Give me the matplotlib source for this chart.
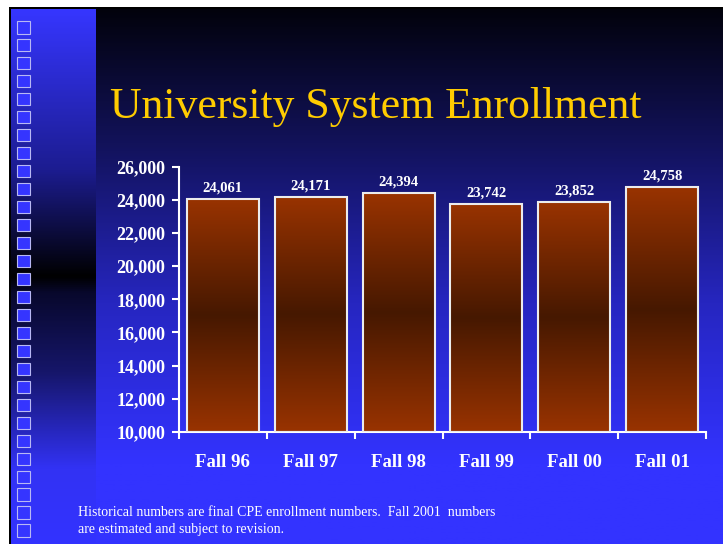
import numpy as np
import matplotlib.pyplot as plt
from matplotlib.colors import LinearSegmentedColormap

# данные
semesters = ['Fall 96', 'Fall 97', 'Fall 98', 'Fall 99', 'Fall 00', 'Fall 01']
enrollment = [24061, 24171, 24394, 23742, 23852, 24758]
y_ticks = [10000, 12000, 14000, 16000, 18000, 20000, 22000, 24000, 26000]

title = 'University System Enrollment'
note = ['Historical numbers are final CPE enrollment numbers.  Fall 2001  numbers',
        'are estimated and subject to revision.']

W, H = 723, 544
plt.rcParams['font.family'] = ['Liberation Serif', 'DejaVu Serif']

fig = plt.figure(figsize=(W / 100, H / 100), dpi=100)
fig.patch.set_facecolor('white')

# фон слайда в пиксельных координатах
bg = fig.add_axes([0, 0, 1, 1])
bg.axis('off')

main_cmap = LinearSegmentedColormap.from_list(
    'main', [(0, '#02020c'), (0.25, '#12125a'), (0.55, '#2626c0'), (0.85, '#3333ff'), (1, '#3333ff')])
strip_cmap = LinearSegmentedColormap.from_list(
    'strip', [(0, '#3636ff'), (0.3, '#1c1c90'), (0.5, '#000000'), (0.53, '#08082c'),
              (0.68, '#16166a'), (0.86, '#3232f4'), (1, '#3333ff')])
grad = np.linspace(0, 1, 256).reshape(-1, 1)

bg.add_patch(plt.Rectangle((9, 7), W, H, facecolor='black', edgecolor='none', zorder=0))
bg.imshow(grad, cmap=main_cmap, extent=(96, W, H, 9), aspect='auto', zorder=1)
bg.imshow(grad, cmap=strip_cmap, extent=(11, 96, H, 9), aspect='auto', zorder=1)
bg.set_xlim(0, W)
bg.set_ylim(H, 0)

# квадратики слева
for k in range(29):
    bg.add_patch(plt.Rectangle((17, 21 + k * 17.98), 12.5, 12.5, facecolor='#3535ff',
                               edgecolor='#b8b8f4', linewidth=0.8, zorder=2))

fig.text(110 / W, 1 - 118 / H, title, color='#ffcc00', fontsize=31.5, va='baseline')
fig.text(78 / W, 1 - 516 / H, note[0], color='white', fontsize=10, va='baseline')
fig.text(78 / W, 1 - 533 / H, note[1], color='white', fontsize=10, va='baseline')

# график
ax = fig.add_axes([179 / W, 1 - 432 / H, 527 / W, 265.5 / H])
ax.patch.set_visible(False)
x = np.arange(len(semesters))
bars = ax.bar(x, np.array(enrollment) - 10000, bottom=10000, width=0.82,
              facecolor='none', edgecolor='#ececec', linewidth=1.5, zorder=3)

bar_cmap = LinearSegmentedColormap.from_list(
    'bar', [(0, '#993300'), (0.5, '#461800'), (1, '#993300')])
for b, val in zip(bars, enrollment):
    x0, x1 = b.get_x(), b.get_x() + b.get_width()
    im = ax.imshow(grad, cmap=bar_cmap, extent=(x0, x1, 10000, val), aspect='auto', zorder=2)
    im.set_clip_path(b)
    ax.annotate(f'{val:,}', (b.get_x() + b.get_width() / 2, val), xytext=(0, 3),
                textcoords='offset points', ha='center', va='bottom',
                color='white', fontsize=10.5, fontweight='bold')

ax.set_xlim(-0.5, len(semesters) - 0.5)
ax.set_ylim(10000, 26000)
ax.set_yticks(y_ticks)
ax.set_yticklabels([f'{v:,}' for v in y_ticks])
ax.set_xticks(np.arange(-0.5, len(semesters)))
ax.set_xticklabels([])
ax.set_xticks(x, minor=True)
ax.set_xticklabels(semesters, minor=True)

for s in ['top', 'right']:
    ax.spines[s].set_visible(False)
for s in ['left', 'bottom']:
    ax.spines[s].set_color('white')
    ax.spines[s].set_linewidth(1.5)

ax.tick_params(axis='both', which='major', colors='white', length=5, width=1.5)
ax.tick_params(axis='y', labelsize=13, pad=5)
ax.tick_params(axis='x', which='minor', length=0, pad=16, labelsize=13.5, colors='white')
for lbl in ax.get_yticklabels() + ax.get_xticklabels(minor=True):
    lbl.set_fontweight('bold')

fig.savefig('out.png', dpi=100, facecolor=fig.get_facecolor())
